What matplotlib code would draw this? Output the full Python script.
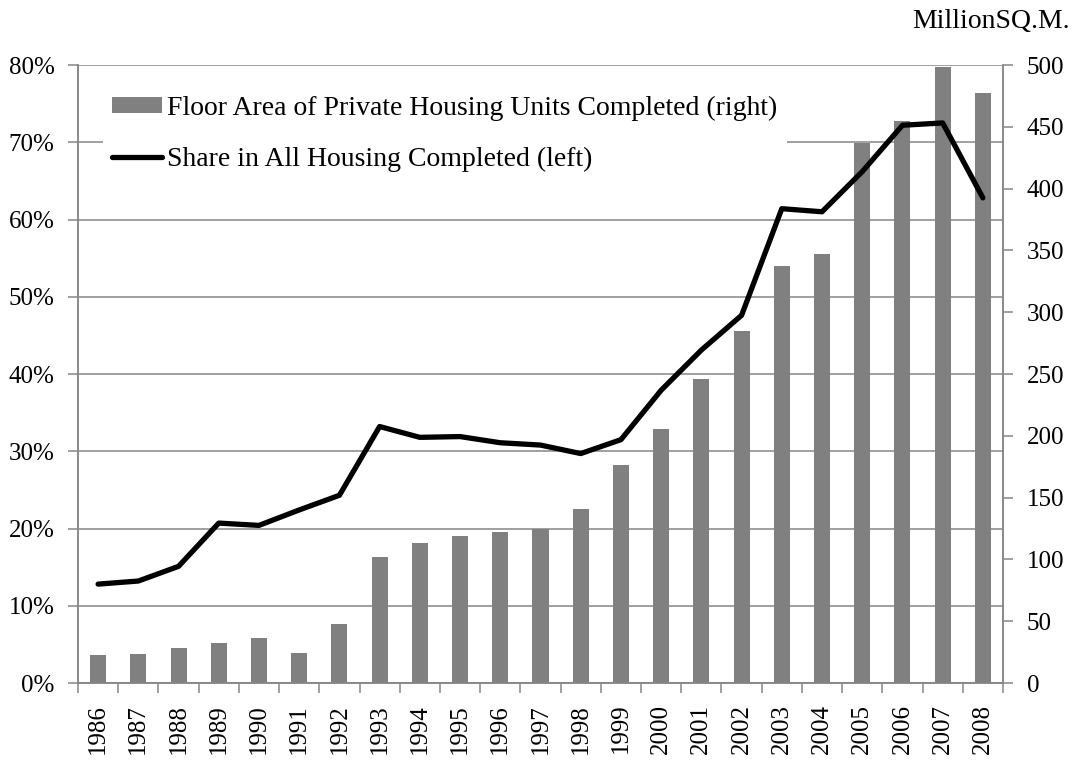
import matplotlib
matplotlib.use("Agg")
import matplotlib.pyplot as plt
import numpy as np
from matplotlib.ticker import PercentFormatter

plt.rcParams['font.family'] = ['Liberation Serif', 'DejaVu Serif']

years = ["1986", "1987", "1988", "1989", "1990", "1991", "1992", "1993", "1994", "1995", "1996",
         "1997", "1998", "1999", "2000", "2001", "2002", "2003", "2004", "2005", "2006", "2007", "2008"]

# million sq.m. (right axis)
floor_area = [22.4, 23.5, 28.6, 32.6, 36.4, 24.3, 48.0, 101.9, 113.3, 118.9, 121.9, 124.6,
              140.8, 176.4, 205.8, 246.0, 285.0, 337.6, 346.8, 437.0, 454.7, 498.6, 477.3]

# percent (left axis)
share = [12.8, 13.2, 15.1, 20.7, 20.4, 22.4, 24.3, 33.2, 31.8, 31.9, 31.1, 30.8,
         29.7, 31.5, 37.9, 43.1, 47.6, 61.4, 61.0, 66.2, 72.2, 72.5, 62.8]

left_ticks = [0, 10, 20, 30, 40, 50, 60, 70, 80]
right_ticks = [0, 50, 100, 150, 200, 250, 300, 350, 400, 450, 500]

GRAY = '#868686'
FS = 18       # tick labels
FS_BIG = 20   # legend / unit label

fig = plt.figure(figsize=(10.76, 7.61), dpi=100)
ax = fig.add_axes([78 / 1076, 1 - 683 / 761, 925 / 1076, 618 / 761])  # bars, right scale
ax_l = ax.twinx()  # line, left scale

x = np.arange(len(years))

ax.set_ylim(0, 500)
ax_l.set_ylim(0, 80)
ax.set_xlim(-0.5, len(years) - 0.5)

# gridlines follow the left axis, kept behind the bars
for t in left_ticks:
    ax.axhline(t * 500 / 80, color=GRAY, lw=1.1, zorder=0)

bars = ax.bar(x, floor_area, width=0.4, color='#808080', zorder=2,
              label='Floor Area of Private Housing Units Completed (right)')
line, = ax_l.plot(x, share, color='black', lw=3.8, solid_capstyle='round',
                  solid_joinstyle='round', label='Share in All Housing Completed (left)')

# axis sides
ax.yaxis.tick_right()
ax_l.yaxis.tick_left()
ax.set_yticks(right_ticks)
ax_l.set_yticks(left_ticks)
ax_l.yaxis.set_major_formatter(PercentFormatter(100, decimals=0))

ax.set_xticks(np.arange(len(years) + 1) - 0.5)
ax.set_xticklabels([])
ax.set_xticks(x, minor=True)
ax.set_xticklabels(years, minor=True, rotation=90, fontsize=FS)
ax.tick_params(axis='x', which='major', direction='out', length=7, width=1.1, color=GRAY)
ax.tick_params(axis='x', which='minor', length=0, pad=15)
ax.tick_params(axis='y', direction='out', length=7, width=1.1, color=GRAY, labelsize=FS, pad=10)
ax_l.tick_params(axis='y', direction='out', length=7, width=1.1, color=GRAY, labelsize=FS, pad=10)

for a in (ax, ax_l):
    for s in a.spines.values():
        s.set_color(GRAY)
        s.set_linewidth(1.1)
    a.spines['top'].set_visible(False)

fig.text(1070 / 1076, 1 - 28 / 761, 'MillionSQ.M.', ha='right', va='baseline', fontsize=FS_BIG)

leg = ax_l.legend([bars, line], [bars.get_label(), line.get_label()],
                  loc='upper left', bbox_to_anchor=(0.0265, 0.966), fontsize=FS_BIG,
                  frameon=True, fancybox=False, edgecolor='none', facecolor='white', framealpha=1,
                  handlelength=1.8, handleheight=0.47, handletextpad=0.18, labelspacing=0.92,
                  borderpad=0.35, borderaxespad=0)

fig.savefig('out.png', dpi=100)
